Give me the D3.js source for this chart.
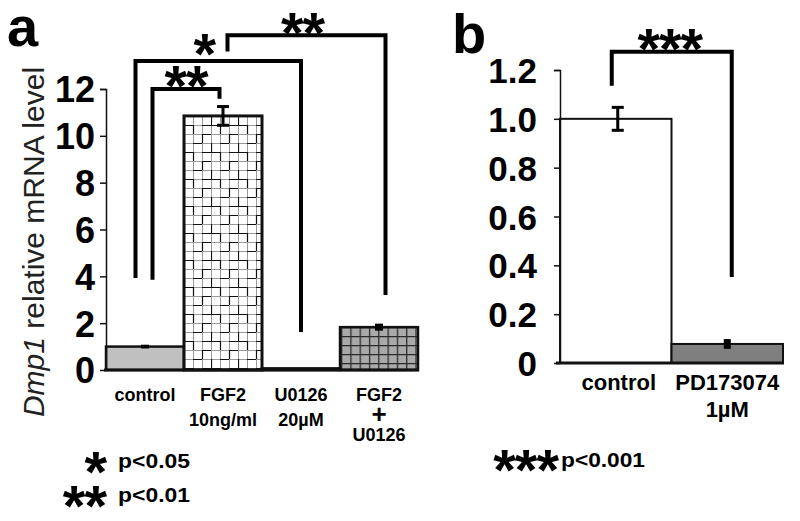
<!DOCTYPE html>
<html><head><meta charset="utf-8">
<script src="https://cdn.jsdelivr.net/npm/d3@7"></script>
<style>body{margin:0;background:#fff}svg{display:block}</style>
</head><body>
<script>
// ---- data ----
const catsA = ["control", "FGF2", "U0126", "FGF2+U0126"];
const labelsA = [["control"], ["FGF2", "10ng/ml"], ["U0126", "20µM"], ["FGF2", "+", "U0126"]];
const valsA = [1.0, 10.85, 0.07, 1.83];
const errA = [0.08, 0.4, 0, 0.15];
const ticksA = [0, 2, 4, 6, 8, 10, 12];

const catsB = ["control", "PD173074"];
const labelsB = [["control"], ["PD173074", "1µM"]];
const valsB = [1.0, 0.078];
const errB = [0.047, 0.02];
const ticksB = [0, 0.2, 0.4, 0.6, 0.8, 1.0, 1.2];
const tickLabelsB = ["0", "0.2", "0.4", "0.6", "0.8", "1.0", "1.2"];

// significance brackets: from/to category index, top level, left/right leg ends (data units)
const sigA = [
  {from: 0, to: 1, top: 12.0, leftEnd: 3.85, rightEnd: 11.58, label: "**"},
  {from: 0, to: 2, top: 13.2, leftEnd: 3.93, rightEnd: 1.62, label: "*"},
  {from: 1, to: 3, top: 14.3, leftEnd: 13.6, rightEnd: 3.2, label: "**"}
];
const sigB = [
  {from: 0, to: 1, top: 1.275, leftEnd: 1.135, rightEnd: 0.352, label: "***"}
];
const legendA = [["*", "p<0.05"], ["**", "p<0.01"]];
const legendB = [["***", "p<0.001"]];

const W = 800, H = 521;
const svg = d3.select("body").append("svg").attr("width", W).attr("height", H);
const defs = svg.append("defs");

// patterns
const p1 = defs.append("pattern").attr("id", "checker").attr("patternUnits", "userSpaceOnUse")
  .attr("width", 27).attr("height", 27).attr("x", 184).attr("y", 116);
p1.append("rect").attr("width", 27).attr("height", 27).attr("fill", "#fff");
p1.append("path").attr("d", "M0,0.5H27M0,9.5H27M0,18.5H27M0.5,0V27M9.5,0V27M18.5,0V27")
  .attr("stroke", "#9a9a9a").attr("stroke-width", 1);
p1.append("path").attr("d", "M0,9.5H9M9.5,9V18M0.5,0V9M18,18.5H27M18.5,18V27M9,0.5H18M27,9.5H18")
  .attr("stroke", "#111").attr("stroke-width", 1.2);

const p2 = defs.append("pattern").attr("id", "grid").attr("patternUnits", "userSpaceOnUse")
  .attr("width", 9.3).attr("height", 9).attr("x", 341).attr("y", 327);
p2.append("rect").attr("width", 10).attr("height", 9).attr("fill", "#a9a9a9");
p2.append("path").attr("d", "M0,0.5H10M0.6,0V9").attr("stroke", "#2a2a2a").attr("stroke-width", 1.3);

const font = "'Liberation Sans',Arial,sans-serif";
const STAR = 58;

// ---- Panel a ----
const xA = d3.scaleBand().domain(catsA).range([106, 418]).padding(0);
const yA = d3.scaleLinear().domain([0, 12]).range([370, 89]);
const gA = svg.append("g");

const fillsA = ["#c0c0c0", "url(#checker)", "#fff", "url(#grid)"];
gA.selectAll("rect.bar").data(valsA).join("rect").attr("class", "bar")
  .attr("x", (d, i) => xA(catsA[i]))
  .attr("y", d => yA(d))
  .attr("width", xA.bandwidth())
  .attr("height", d => yA(0) - yA(d))
  .attr("fill", (d, i) => fillsA[i])
  .attr("stroke", "#111")
  .attr("stroke-width", (d, i) => i === 1 ? 3 : 2.5);

// error bars
gA.selectAll("g.err").data(valsA).join("g").attr("class", "err").each(function(d, i) {
  const e = errA[i]; if (!e) return;
  const cx = xA(catsA[i]) + xA.bandwidth() / 2;
  const g = d3.select(this);
  g.append("line").attr("x1", cx).attr("x2", cx).attr("y1", yA(d + e)).attr("y2", yA(d - e))
    .attr("stroke", "#000").attr("stroke-width", e < 0.2 ? 8 : 3);
  if (e >= 0.2) {
    [d + e, d - e].forEach(v => g.append("line").attr("x1", cx - 6).attr("x2", cx + 6)
      .attr("y1", yA(v)).attr("y2", yA(v)).attr("stroke", "#000").attr("stroke-width", 3));
  }
});

// y axis
const axA = gA.append("g").attr("transform", "translate(106,0)")
  .call(d3.axisLeft(yA).tickValues(ticksA).tickSize(6).tickPadding(5).tickFormat(d3.format("d")));
axA.select(".domain").attr("stroke", "#111").attr("stroke-width", 1.5).attr("d", "M-6,89.5H0.5V370");
axA.selectAll(".tick line").attr("stroke", "#111").attr("stroke-width", 1.5);
axA.selectAll(".tick text").attr("font-family", font).attr("font-weight", "bold")
  .attr("font-size", 36).attr("fill", "#000").attr("dy", "0.36em");
// baseline
gA.append("line").attr("x1", 104).attr("x2", 419).attr("y1", yA(0)).attr("y2", yA(0))
  .attr("stroke", "#111").attr("stroke-width", 3);

// x labels
labelsA.forEach((lines, i) => {
  const cx = xA(catsA[i]) + xA.bandwidth() / 2;
  const ys = lines.length === 3 ? [401, 423, 441] : [401, 426];
  lines.forEach((t, j) => {
    gA.append("text").attr("x", cx).attr("y", ys[j]).attr("text-anchor", "middle")
      .attr("font-family", font).attr("font-weight", "bold")
      .attr("font-size", t === "+" ? 26 : 18).text(t);
  });
});

// y title
const yt = gA.append("text").attr("transform", "translate(44,242) rotate(-90)")
  .attr("text-anchor", "middle").attr("font-family", font).attr("font-size", 30).attr("fill", "#222");
yt.append("tspan").attr("font-style", "italic").text("Dmp1");
yt.append("tspan").text(" relative mRNA level");

// panel letter
svg.append("text").attr("x", 7).attr("y", 46).attr("font-family", font).attr("font-weight", "bold")
  .attr("font-size", 56).text("a");

function starText(g, cx, cy, label, anchor) {
  g.append("text").attr("x", cx).attr("y", cy + STAR * 0.5)
    .attr("text-anchor", anchor || "middle").attr("font-family", font).attr("font-weight", "bold")
    .attr("font-size", STAR).attr("letter-spacing", -1).text(label);
}

// label offsets: [leftLegDx, rightLegDx, labelDx, labelRise]
function drawBrackets(g, data, xs, ys, offs) {
  const cats = xs.domain();
  data.forEach((b, k) => {
    const x1 = xs(cats[b.from]) + xs.bandwidth() / 2 + offs[k][0];
    const x2 = xs(cats[b.to]) + xs.bandwidth() / 2 + offs[k][1];
    g.append("path").attr("d", `M${x1},${ys(b.leftEnd)}V${ys(b.top)}H${x2}V${ys(b.rightEnd)}`)
      .attr("fill", "none").attr("stroke", "#000").attr("stroke-width", 4);
    starText(g, (x1 + x2) / 2 + offs[k][2], ys(b.top) - offs[k][3], b.label);
  });
}

drawBrackets(gA, sigA, xA, yA, [[7.5, -3.5, 0, 12], [-9.5, 0, -14, 16], [4.5, 6.5, -4, 11]]);

// legend a
legendA.forEach((r, i) => {
  const cy = [463, 497][i];
  starText(svg, 106, cy, r[0], "end");
  svg.append("text").attr("x", 118).attr("y", cy + 5).attr("font-family", font)
    .attr("font-weight", "bold").attr("font-size", 20)
    .attr("textLength", 72).attr("lengthAdjust", "spacingAndGlyphs").text(r[1]);
});

// ---- Panel b ----
const xB = d3.scaleBand().domain(catsB).range([560, 783]).padding(0);
const yB = d3.scaleLinear().domain([0, 1.2]).range([363, 70]);
const gB = svg.append("g");
const fillsB = ["#fff", "#7f7f7f"];
gB.selectAll("rect.bar").data(valsB).join("rect").attr("class", "bar")
  .attr("x", (d, i) => xB(catsB[i]))
  .attr("y", d => yB(d))
  .attr("width", xB.bandwidth())
  .attr("height", d => yB(0) - yB(d))
  .attr("fill", (d, i) => fillsB[i])
  .attr("stroke", "#111").attr("stroke-width", 2);

gB.selectAll("g.err").data(valsB).join("g").attr("class", "err").each(function(d, i) {
  const e = errB[i];
  const cx = xB(catsB[i]) + xB.bandwidth() / 2 + (i === 0 ? 2 : 0);
  const g = d3.select(this);
  g.append("line").attr("x1", cx).attr("x2", cx).attr("y1", yB(d + e)).attr("y2", yB(d - e))
    .attr("stroke", "#000").attr("stroke-width", e < 0.03 ? 7 : 3);
  if (e >= 0.03) {
    [d + e, d - e].forEach(v => g.append("line").attr("x1", cx - 6).attr("x2", cx + 6)
      .attr("y1", yB(v)).attr("y2", yB(v)).attr("stroke", "#000").attr("stroke-width", 3));
  }
});

const axB = gB.append("g").attr("transform", "translate(560,0)")
  .call(d3.axisLeft(yB).tickValues(ticksB).tickSize(6).tickPadding(17).tickFormat((d, i) => tickLabelsB[i]));
axB.select(".domain").attr("stroke", "#111").attr("stroke-width", 1.5).attr("d", "M-6,70.5H0.5V363");
axB.selectAll(".tick line").attr("stroke", "#111").attr("stroke-width", 1.5);
axB.selectAll(".tick text").attr("font-family", font).attr("font-weight", "bold")
  .attr("font-size", 35).attr("fill", "#000").attr("dy", "0.36em");
gB.append("line").attr("x1", 556).attr("x2", 784).attr("y1", yB(0)).attr("y2", yB(0))
  .attr("stroke", "#111").attr("stroke-width", 3);

labelsB.forEach((lines, i) => {
  const cx = xB(catsB[i]) + xB.bandwidth() / 2 + (i === 0 ? 3 : 0);
  lines.forEach((t, j) => {
    gB.append("text").attr("x", cx).attr("y", j === 0 ? 390 : 417).attr("text-anchor", "middle")
      .attr("font-family", font).attr("font-weight", "bold").attr("font-size", 22).text(t);
  });
});

svg.append("text").attr("x", 452).attr("y", 53).attr("font-family", font).attr("font-weight", "bold")
  .attr("font-size", 56).text("b");

drawBrackets(gB, sigB, xB, yB, [[-4, 4.5, -2, 12]]);

// legend b
legendB.forEach(r => {
  starText(svg, 558, 461, r[0], "end");
  svg.append("text").attr("x", 561).attr("y", 467).attr("font-family", font)
    .attr("font-weight", "bold").attr("font-size", 21)
    .attr("textLength", 84).attr("lengthAdjust", "spacingAndGlyphs").text(r[1]);
});
</script>
</body></html>
